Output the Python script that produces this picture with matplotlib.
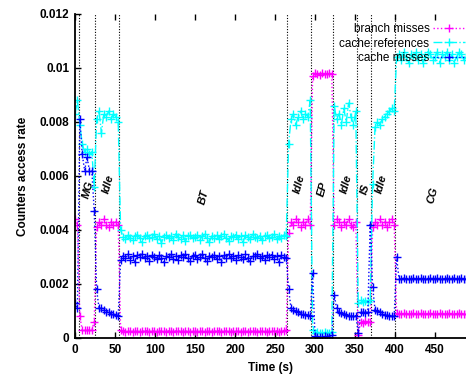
import numpy as np
import matplotlib
matplotlib.use("Agg")
import matplotlib.pyplot as plt
from matplotlib.ticker import FormatStrFormatter

plt.rcParams['font.family'] = ['Liberation Sans', 'DejaVu Sans']

# sample times (s)
t = np.arange(0, 490, 3)

# branch misses rate, by phase: pre, MG, idle, BT, idle, EP, idle, IS, idle, CG
branch = [
    0.0044, 0.0042,
    0.0008, 0.0003, 0.00028, 0.00031, 0.00029, 0.0003, 0.0006,
    0.0041, 0.0043, 0.0042, 0.0044, 0.0042, 0.0041, 0.0043, 0.0042, 0.0043, 0.0042,
    0.0003, 0.00026, 0.00024, 0.00025, 0.00027, 0.00024, 0.00026, 0.00025, 0.00023, 0.00026,
    0.00025, 0.00027, 0.00024, 0.00025, 0.00026, 0.00024, 0.00025, 0.00027, 0.00025, 0.00024,
    0.00026, 0.00025, 0.00023, 0.00026, 0.00025, 0.00027, 0.00024, 0.00025, 0.00026, 0.00024,
    0.00025, 0.00026, 0.00024, 0.00027, 0.00025, 0.00023, 0.00026, 0.00025, 0.00024, 0.00026,
    0.00025, 0.00027, 0.00024, 0.00025, 0.00026, 0.00025, 0.00023, 0.00026, 0.00025, 0.00027,
    0.00024, 0.00025, 0.00026, 0.00024, 0.00025, 0.00027, 0.00025, 0.00024, 0.00026, 0.00025,
    0.00026, 0.00024, 0.00025, 0.00027, 0.00025, 0.00026, 0.00024, 0.00025, 0.00026, 0.00028,
    0.0039, 0.0043, 0.0042, 0.0044, 0.0043, 0.0041, 0.0043, 0.0042, 0.0044, 0.0042,
    0.0097, 0.0098, 0.00978, 0.00975, 0.0098, 0.00978, 0.00976, 0.0098, 0.00977,
    0.0042, 0.0044, 0.0043, 0.0041, 0.0043, 0.0042, 0.0044, 0.0042, 0.0041, 0.0043,
    0.0001, 0.0006, 0.00055, 0.00062, 0.00058, 0.0006,
    0.0041, 0.0043, 0.0042, 0.0044, 0.0042, 0.0043, 0.0041, 0.0043, 0.0044, 0.0042,
    0.00092, 0.0009, 0.00089, 0.00091, 0.0009, 0.00088, 0.0009, 0.00091, 0.00089, 0.0009,
    0.00091, 0.00089, 0.0009, 0.00088, 0.00091, 0.0009, 0.00089, 0.0009, 0.00091, 0.0009,
    0.00089, 0.0009, 0.00091, 0.00088, 0.0009, 0.00089, 0.00091, 0.0009, 0.00089, 0.0009,
]

# cache references rate
refs = [
    0.0083, 0.0088,
    0.0079, 0.0072, 0.0069, 0.0070, 0.0068, 0.0069, 0.0056,
    0.0081, 0.0084, 0.0076, 0.0083, 0.0082, 0.0084, 0.0081, 0.0083, 0.0082, 0.0080,
    0.0040, 0.00375, 0.00368, 0.0038, 0.00372, 0.00362, 0.00378, 0.00383, 0.0037, 0.00355,
    0.00376, 0.00381, 0.00369, 0.00374, 0.00385, 0.00366, 0.00378, 0.00352, 0.00375, 0.00382,
    0.00371, 0.00377, 0.00364, 0.00386, 0.00373, 0.00368, 0.0038, 0.00358, 0.00376, 0.00383,
    0.00369, 0.00375, 0.00381, 0.00363, 0.00377, 0.00384, 0.0037, 0.00356, 0.00378, 0.00372,
    0.00382, 0.00367, 0.00376, 0.00385, 0.00371, 0.00361, 0.00379, 0.00374, 0.00383, 0.00368,
    0.00377, 0.00354, 0.00381, 0.00373, 0.00366, 0.00384, 0.00375, 0.0037, 0.00379, 0.00362,
    0.00376, 0.00382, 0.00369, 0.00374, 0.00386, 0.00365, 0.00378, 0.00372, 0.00381, 0.00376,
    0.0072, 0.0081, 0.0083, 0.0079, 0.0082, 0.0084, 0.0081, 0.0083, 0.0082, 0.0088,
    0.0003, 0.0002, 0.00022, 0.00018, 0.0002, 0.00023, 0.00019, 0.0002, 0.00021,
    0.0086, 0.0081, 0.0083, 0.0079, 0.0085, 0.0080, 0.0087, 0.0082, 0.0079, 0.0084,
    0.0013, 0.0014, 0.00132, 0.00138, 0.00134, 0.0014,
    0.0057, 0.0078, 0.0080, 0.0079, 0.0081, 0.0082, 0.0083, 0.0084, 0.0085, 0.0084,
    0.0104, 0.0105, 0.0103, 0.0106, 0.0104, 0.0102, 0.0105, 0.0104, 0.0106, 0.0103,
    0.0105, 0.0102, 0.0104, 0.0106, 0.0105, 0.0103, 0.0104, 0.0106, 0.0102, 0.0105,
    0.0104, 0.0106, 0.0103, 0.0105, 0.0102, 0.0104, 0.0106, 0.0105, 0.0103, 0.0104,
]

# cache misses rate
misses = [
    0.0013, 0.0011,
    0.0081, 0.0068, 0.0062, 0.0067, 0.0062, 0.0062, 0.0047,
    0.0018, 0.0011, 0.00112, 0.00104, 0.00098, 0.00095, 0.0009, 0.00088, 0.00084, 0.0008,
    0.0029, 0.00305, 0.00298, 0.0031, 0.0029, 0.00302, 0.00283, 0.00307, 0.00299, 0.00311,
    0.00295, 0.00304, 0.00286, 0.00308, 0.003, 0.00293, 0.00309, 0.00297, 0.00281, 0.00305,
    0.00301, 0.00312, 0.00294, 0.00303, 0.00288, 0.00306, 0.00299, 0.0031, 0.00296, 0.00284,
    0.00304, 0.00308, 0.00292, 0.00301, 0.00311, 0.00297, 0.00287, 0.00305, 0.003, 0.00309,
    0.00294, 0.00303, 0.00282, 0.00307, 0.00298, 0.00312, 0.00295, 0.00304, 0.00289, 0.00306,
    0.00301, 0.00293, 0.0031, 0.00297, 0.00285, 0.00305, 0.00302, 0.00311, 0.00296, 0.00303,
    0.00288, 0.00307, 0.00299, 0.00309, 0.00294, 0.00304, 0.00283, 0.00306, 0.003, 0.00298,
    0.0018, 0.0011, 0.00105, 0.001, 0.00095, 0.0009, 0.00088, 0.00086, 0.00085, 0.00082,
    0.0024, 0.00006, 0.00004, 0.00005, 0.00003, 0.00006, 0.00004, 0.00005, 0.00012,
    0.0016, 0.0011, 0.00098, 0.00093, 0.0009, 0.00086, 0.00083, 0.00082, 0.0008, 0.00083,
    0.0002, 0.00095, 0.00097, 0.00094, 0.00096, 0.0042,
    0.0019, 0.00105, 0.001, 0.00095, 0.0009, 0.00087, 0.00085, 0.00082, 0.0008, 0.00081,
    0.0030, 0.0022, 0.00219, 0.00221, 0.0022, 0.00218, 0.0022, 0.00221, 0.00219, 0.0022,
    0.00222, 0.00219, 0.0022, 0.00218, 0.00221, 0.0022, 0.00219, 0.00221, 0.0022, 0.00218,
    0.0022, 0.00221, 0.00219, 0.0022, 0.00222, 0.00219, 0.0022, 0.00221, 0.00218, 0.0022,
]

# phase boundaries and labels
bounds = [5.4, 25, 55, 264.6, 295, 323, 353, 369.5, 400]
phase_names = ['MG', 'Idle', 'BT', 'Idle', 'EP', 'Idle', 'IS', 'Idle', 'CG']
phase_x = [16, 42, 161, 281, 310, 339, 363, 383, 447]
phase_y = [0.0055, 0.0057, 0.0052, 0.0057, 0.0055, 0.0057, 0.0055, 0.0057, 0.0053]

fig = plt.figure(figsize=(4.66, 3.82), dpi=100)
ax = fig.add_axes([0.161, 0.1152, 0.839, 0.8482])

ax.plot(t, branch, color='#ff00ff', ls=':', lw=1, marker='+', ms=5.5, mew=1,
        label='branch misses')
ax.plot(t, refs, color='#00ffff', ls='-.', lw=1, marker='+', ms=5.5, mew=1,
        label='cache references')
ax.plot(t, misses, color='#0000ff', ls=':', lw=1, marker='+', ms=5.5, mew=1,
        label='cache misses')

for b in bounds:
    ax.axvline(b, color='black', ls=(0, (1, 1.5)), lw=0.8, zorder=0.5)

for name, px, py in zip(phase_names, phase_x, phase_y):
    ax.text(px, py, name, rotation=75, ha='center', va='center',
            fontsize=8, fontweight='bold', fontstyle='italic')

ax.set_xlim(0, 488.75)
ax.set_ylim(0, 0.012)
ax.set_xticks(np.arange(0, 500, 50))
ax.set_yticks(np.arange(0, 0.0121, 0.002))
ax.yaxis.set_major_formatter(FormatStrFormatter('%g'))

for s in ['top', 'right']:
    ax.spines[s].set_visible(False)
for s in ['left', 'bottom']:
    ax.spines[s].set_linewidth(1.3)

ax.tick_params(direction='in', length=4, width=1, top=True, right=False,
               labelsize=8.5, pad=4)
for lab in ax.get_xticklabels() + ax.get_yticklabels():
    lab.set_fontweight('bold')

ax.set_xlabel('Time (s)', fontsize=8.5, fontweight='bold', labelpad=5)
ax.set_ylabel('Counters access rate', fontsize=8.5, fontweight='bold', labelpad=8)

ax.legend(loc='upper right', bbox_to_anchor=(1.0, 0.975), frameon=False,
          markerfirst=False, fontsize=8.5, handlelength=2.7, handletextpad=0.3,
          labelspacing=0.2, borderaxespad=0.0, borderpad=0.1)

fig.savefig('out.png', dpi=100)
